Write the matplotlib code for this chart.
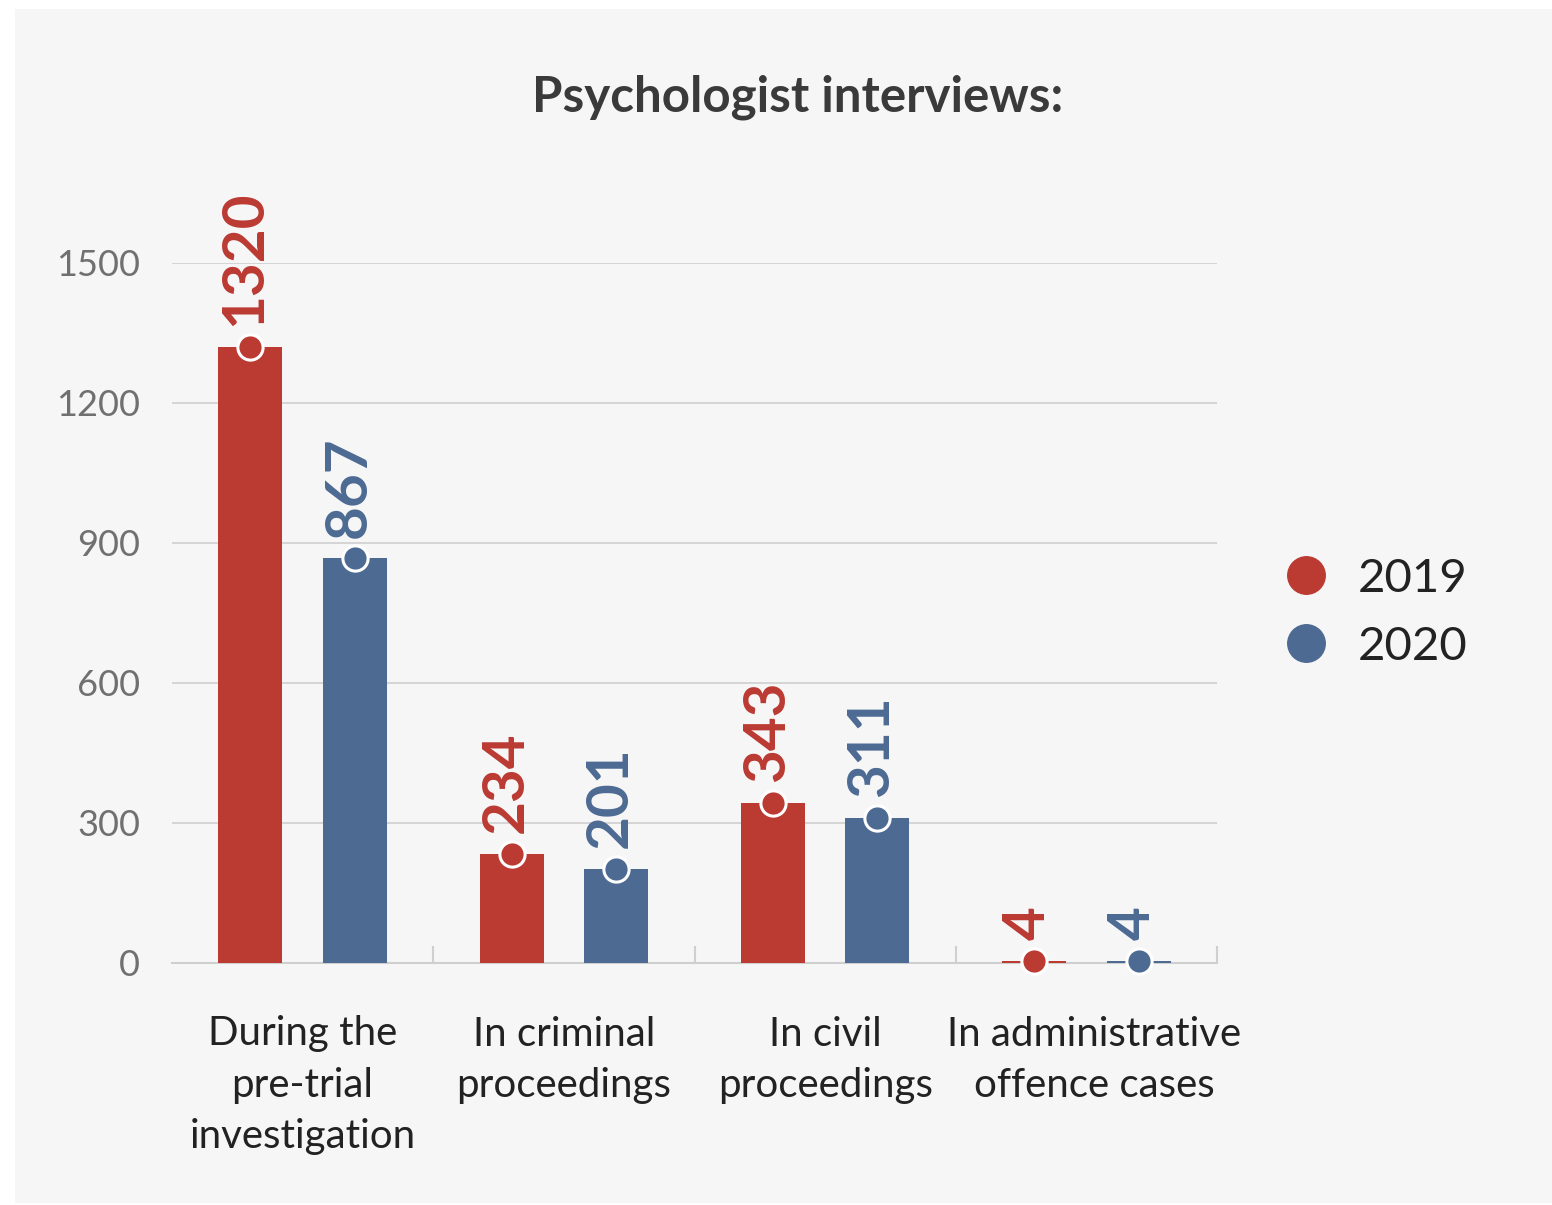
import matplotlib.pyplot as plt
from matplotlib.lines import Line2D
from matplotlib.patches import Rectangle
import numpy as np

categories = ["During the\npre-trial\ninvestigation", "In criminal\nproceedings",
              "In civil\nproceedings", "In administrative\noffence cases"]
years = ["2019", "2020"]
values_2019 = [1320, 234, 343, 4]
values_2020 = [867, 201, 311, 4]
yticks = [0, 300, 600, 900, 1200, 1500]

red = "#bb3a32"
blue = "#4d6a93"
panel_bg = "#f6f6f6"

plt.rcParams['font.family'] = ['Lato', 'DejaVu Sans']

fig = plt.figure(figsize=(15.52, 12.05), dpi=100)
fig.patch.set_facecolor("white")
# grey panel behind everything
fig.patches.append(Rectangle((15 / 1552, 2 / 1205), 1537 / 1552, 1194 / 1205,
                             transform=fig.transFigure, facecolor=panel_bg,
                             edgecolor="none", zorder=-10))

ax = fig.add_axes([172 / 1552, 1 - 963 / 1205, 1045 / 1552, 700 / 1205])
ax.set_zorder(2)
ax.set_facecolor("none")

x = np.arange(len(categories))
w = 0.245
off = 0.2

for vals, col, dx in [(values_2019, red, -off), (values_2020, blue, off)]:
    ax.bar(x + dx, vals, width=w, color=col, zorder=3)
    ax.scatter(x + dx, vals, s=330, color=col, edgecolor="white", linewidth=2.2,
               zorder=4, clip_on=False)
    for xi, v in zip(x + dx, vals):
        ax.annotate(str(v), (xi, v), xytext=(-4, 15), textcoords="offset points",
                    rotation=90, ha="center", va="bottom", fontsize=42,
                    color=col, fontweight="bold", annotation_clip=False,
                    zorder=5)

ax.set_xlim(-0.5, len(categories) - 0.5)
ax.set_ylim(0, 1500)
ax.set_yticks(yticks)
ax.set_yticklabels([str(t) for t in yticks], fontsize=26, color="#707070")
ax.tick_params(axis="y", length=0, pad=23)
ax.grid(axis="y", color="#cfcfcf", linewidth=1.2, zorder=1)
ax.set_axisbelow(True)

for s in ["top", "right", "left"]:
    ax.spines[s].set_visible(False)
ax.spines["bottom"].set_color("#cfcfcf")
ax.spines["bottom"].set_linewidth(1.5)

ax.set_xticks([])
# group separator ticks along the baseline
for b in np.arange(-0.5, len(categories), 1.0)[1:]:
    ax.plot([b, b], [0, 35], color="#cfcfcf", linewidth=1.5, zorder=2,
            clip_on=False)

label_shift = [0, 0, 0, 0.03]
for xi, lab, sh in zip(x, categories, label_shift):
    ax.text(xi + sh, -0.075, lab, transform=ax.get_xaxis_transform(), ha="center",
            va="top", fontsize=29, color="#222222", linespacing=1.47)

fig.text(798 / 1552, 1 - 97 / 1205, "Psychologist interviews:", ha="center",
         va="center", fontsize=35.5, fontweight="bold", color="#3a3a3a")

handles = [Line2D([], [], marker="o", linestyle="", color=red, markersize=27),
           Line2D([], [], marker="o", linestyle="", color=blue, markersize=27)]
fig.legend(handles, years, loc="center left",
           bbox_to_anchor=(1240 / 1552, 1 - 613 / 1205), frameon=False,
           fontsize=34, handletextpad=0.6, labelspacing=0.55,
           labelcolor="#222222", handlelength=1.0)

fig.savefig("out.png", dpi=100, facecolor=fig.get_facecolor())
